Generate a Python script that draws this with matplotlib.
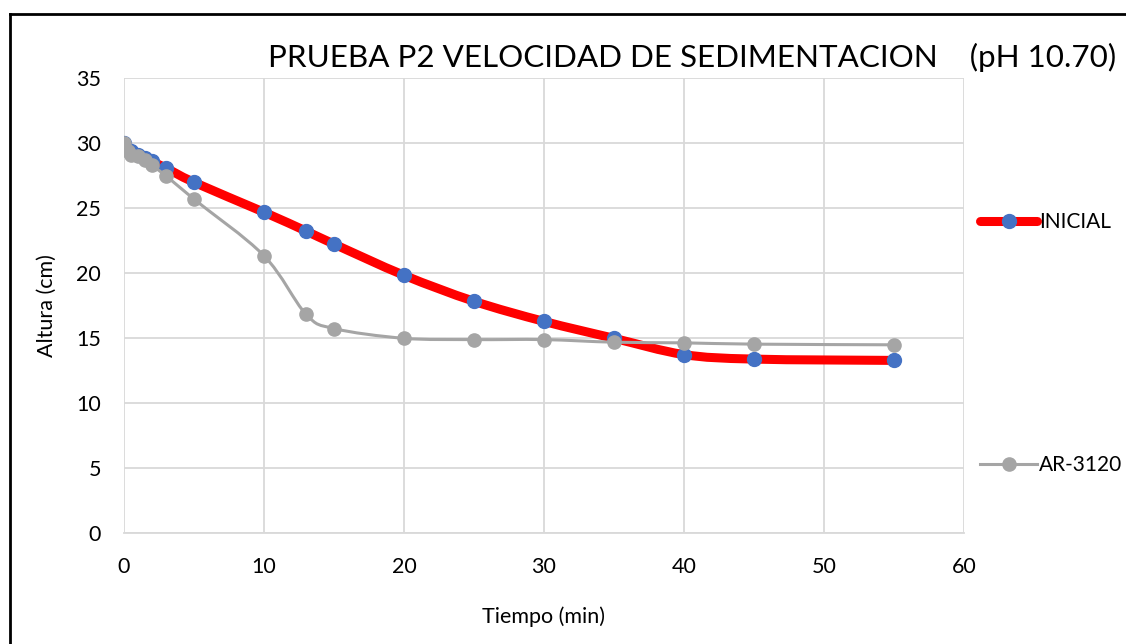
import numpy as np
import matplotlib.pyplot as plt
from matplotlib.path import Path
from matplotlib.patches import PathPatch
from matplotlib.lines import Line2D

plt.rcParams['font.family'] = ['Lato', 'DejaVu Sans']

# sedimentation test P2, column height vs time
t_inicial = [0, 0.5, 1, 1.5, 2, 3, 5, 10, 13, 15, 20, 25, 30, 35, 40, 45, 55]
h_inicial = [30.0, 29.4, 29.1, 28.9, 28.6, 28.1, 27.0, 24.7, 23.25, 22.25, 19.85, 17.85, 16.3, 15.0, 13.75, 13.4, 13.3]
t_ar = [0, 0.25, 0.5, 1, 1.5, 2, 3, 5, 10, 13, 15, 20, 25, 30, 35, 40, 45, 55]
h_ar = [30.0, 29.4, 29.1, 29.0, 28.75, 28.3, 27.5, 25.7, 21.35, 16.85, 15.75, 15.0, 14.9, 14.9, 14.7, 14.65, 14.55, 14.5]

labels = ['INICIAL', 'AR-3120']
title = 'PRUEBA P2 VELOCIDAD DE SEDIMENTACION    (pH 10.70)'


def smooth_path(x, y):
    # cubic bezier through every point, like a spreadsheet "smoothed line"
    p = np.column_stack([x, y]).astype(float)
    ext = np.vstack([p[0], p, p[-1]])
    verts = [p[0]]
    codes = [Path.MOVETO]
    for i in range(len(p) - 1):
        p0, p1, p2, p3 = ext[i], ext[i + 1], ext[i + 2], ext[i + 3]
        c1 = p1 + (p2 - p0) / 6.0
        c2 = p2 - (p3 - p1) / 6.0
        verts += [c1, c2, p2]
        codes += [Path.CURVE4] * 3
    return Path(verts, codes)


fig = plt.figure(figsize=(11.26, 6.44), dpi=100)
ax = fig.add_axes([124 / 1126, 110.7 / 644, 840 / 1126, 455 / 644])

red, blue, grey = '#FF0000', '#4472C4', '#A5A5A5'
fs = 15.5

ax.add_patch(PathPatch(smooth_path(t_inicial, h_inicial), fill=False, ec=red, lw=6.5,
                       capstyle='round', joinstyle='round', zorder=3))
ax.plot(t_inicial, h_inicial, ls='none', marker='o', ms=10, mfc=blue, mec=blue, zorder=4)
ax.add_patch(PathPatch(smooth_path(t_ar, h_ar), fill=False, ec=grey, lw=2.2,
                       capstyle='round', joinstyle='round', zorder=5))
ax.plot(t_ar, h_ar, ls='none', marker='o', ms=9.5, mfc=grey, mec=grey, zorder=6)

ax.set_xlim(0, 60)
ax.set_ylim(0, 35)
ax.set_xticks(range(0, 61, 10))
ax.set_yticks(range(0, 36, 5))
ax.grid(True, color='#D9D9D9', lw=1.3)
ax.set_axisbelow(True)
for s in ['top', 'right', 'left']:
    ax.spines[s].set_visible(False)
ax.spines['bottom'].set_color('#D9D9D9')
ax.spines['bottom'].set_linewidth(1.3)
ax.tick_params(length=0, labelsize=fs, colors='black')
ax.tick_params(axis='x', pad=17)
ax.tick_params(axis='y', pad=16.5)
ax.set_xlabel('Tiempo (min)', fontsize=fs, labelpad=21)
ax.set_ylabel('Altura (cm)', fontsize=fs, labelpad=14)

fig.text(268 / 1126, 1 - 57 / 644, title, fontsize=22.6, ha='left', va='center')

# legend entries sit at different heights on the right side
h1 = Line2D([], [], color=red, lw=6.5, marker='o', ms=10, mfc=blue, mec=blue, solid_capstyle='round')
h2 = Line2D([], [], color=grey, lw=2.2, marker='o', ms=9.5, mfc=grey, mec=grey)
for h, lab, yy in [(h1, labels[0], 222), (h2, labels[1], 465)]:
    fig.legend([h], [lab], loc='center left', bbox_to_anchor=(980 / 1126, 1 - yy / 644),
               frameon=False, fontsize=15, handlelength=2.75, handletextpad=0.1,
               borderpad=0, borderaxespad=0)

# chart border (left and top edges visible)
fig.add_artist(Line2D([10 / 1126, 10 / 1126], [0, 1 - 14 / 644], color='black', lw=2))
fig.add_artist(Line2D([10 / 1126, 1], [1 - 14 / 644, 1 - 14 / 644], color='black', lw=2))

fig.savefig('out.png', dpi=100)
